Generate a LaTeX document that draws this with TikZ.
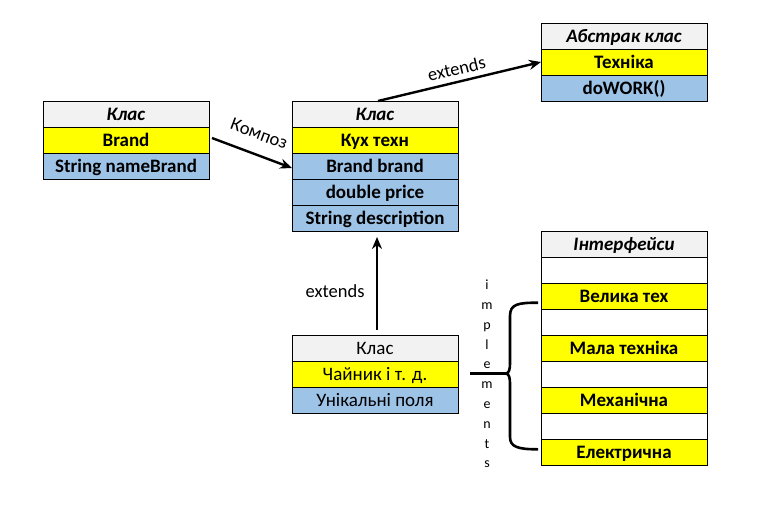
\documentclass[tikz,border=0pt]{standalone}
\usepackage{fontspec}
\setmainfont{Carlito}
\usetikzlibrary{positioning,arrows.meta}

\definecolor{hdrgray}{HTML}{F2F2F2}
\definecolor{fldyellow}{HTML}{FFFF00}
\definecolor{fldblue}{HTML}{9DC3E6}

\tikzstyle{row} = [rectangle, minimum width=166pt, minimum height=26pt, inner sep=0pt, outer sep=0pt, text height=15pt, text depth=3pt, text centered, draw=black, line width=0.9pt, font=\fontsize{19}{20}\selectfont]
\tikzstyle{hdr} = [row, fill=hdrgray, font=\fontsize{19}{20}\selectfont\bfseries\itshape]
\tikzstyle{yel} = [row, fill=fldyellow, font=\fontsize{19}{20}\selectfont\bfseries]
\tikzstyle{blu} = [row, fill=fldblue, font=\fontsize{19}{20}\selectfont\bfseries]
\tikzstyle{emp} = [row, fill=white]
\tikzstyle{arrow} = [line width=2.4pt,->,>={Stealth[length=12pt,width=10pt]}]
\tikzstyle{lbl} = [font=\fontsize{18.5}{20}\selectfont]

\begin{document}
\begin{tikzpicture}[x=1pt,y=-1pt,semithick]
    \useasboundingbox (0,0) rectangle (779,507);
    % class Brand
    \node[hdr] (bh) at (126,114) {Клас};
    \node[yel] (bn) [below=0pt of bh] {Brand};
    \node[blu] (bf) [below=0pt of bn] {String nameBrand};
    % class Kux texn
    \node[hdr] (kh) at (375,114) {Клас};
    \node[yel] (kn) [below=0pt of kh] {Кух техн};
    \node[blu] (kb) [below=0pt of kn] {Brand brand};
    \node[blu] (kp) [below=0pt of kb] {double price};
    \node[blu] (kd) [below=0pt of kp] {String description};
    % abstract class
    \node[hdr] (ah) at (624,36) {Абстрак клас};
    \node[yel] (an) [below=0pt of ah] {Техніка};
    \node[blu] (aw) [below=0pt of an] {doWORK()};
    % class Chainyk
    \node[row, fill=hdrgray] (ch) at (375,348.5) {Клас};
    \node[row, fill=fldyellow] (cn) [below=0pt of ch] {Чайник і т. д.};
    \node[row, fill=fldblue] (cf) [below=0pt of cn] {Унікальні поля};
    % interfaces
    \node[hdr] (ih) at (624,244.5) {Інтерфейси};
    \node[emp] (i1) [below=0pt of ih] {};
    \node[yel] (iv) [below=0pt of i1] {Велика тех};
    \node[emp] (i2) [below=0pt of iv] {};
    \node[yel] (im) [below=0pt of i2] {Мала техніка};
    \node[emp] (i3) [below=0pt of im] {};
    \node[yel] (ik) [below=0pt of i3] {Механічна};
    \node[emp] (i4) [below=0pt of ik] {};
    \node[yel] (ie) [below=0pt of i4] {Електрична};
    \node [align=center, font=\fontsize{14}{19.8}\selectfont] (impl) at (487,374) {i\\m\\p\\l\\e\\m\\e\\n\\t\\s};

    \draw [arrow] ([xshift=3pt,yshift=2pt]bn.east) -- ([yshift=-2pt]kb.west)
        node[lbl, midway, above=10pt, sloped] (komp) {Композ};
    \draw [arrow] ([xshift=3pt]kh.north) -- (an.west)
        node[lbl, midway, above=2pt, sloped] (ext1) {extends};
    \draw [arrow, shorten <=6pt, shorten >=6pt] ([xshift=2pt]ch.north) -- ([xshift=2pt]kd.south)
        node[lbl, pos=0.42, left=8pt] (ext2) {extends};

    % brace to the interfaces
    \coordinate (btail) at (470,373.5);
    \coordinate (btip) at (506,373.5);
    \coordinate (btop) at ([xshift=-3pt]iv.south west |- 0,302.7);
    \coordinate (bbot) at ([xshift=-3pt]ie.west |- 0,449.3);
    \draw [line width=2.6pt] (btail) -- (btip);
    \draw [line width=2.6pt] (btop) .. controls (518,302.7) and (510,304) .. (510,316)
        -- (510,362) .. controls (510,370) and (509,373) .. (btip)
        .. controls (509,374) and (510,377) .. (510,385)
        -- (510,437) .. controls (510,447) and (518,449.3) .. (bbot);
\end{tikzpicture}
\end{document}
